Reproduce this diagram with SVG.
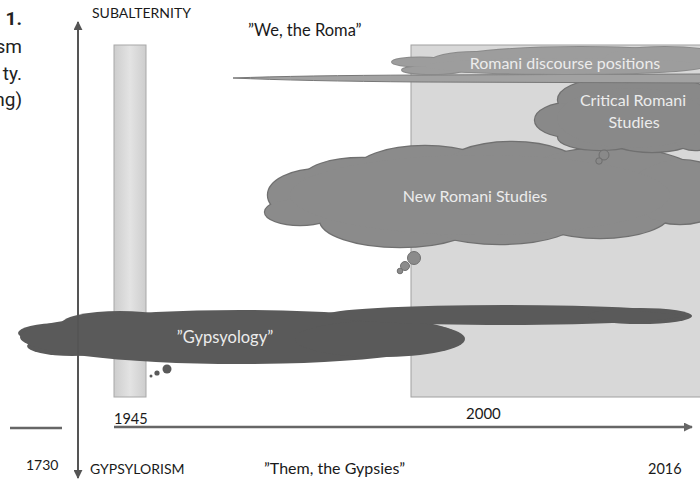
<svg xmlns="http://www.w3.org/2000/svg" xmlns:xlink="http://www.w3.org/1999/xlink" width="700" height="483" viewBox="0 0 700 483">
<style>
.lbl{font-family:Lato,"Open Sans","Liberation Sans",sans-serif;fill:#1a1a1a}
.ctxt{font-family:Lato,"Open Sans","Liberation Sans",sans-serif;fill:#ececec;text-anchor:middle}
.frag{font-family:Roboto,"Liberation Sans",sans-serif;font-size:19px;fill:#222;text-anchor:end}
.edge{fill:#707070;stroke:#707070;stroke-width:2.4}
.axis{stroke:#555;stroke-width:2;fill:none}
</style>
<defs>
<marker id="ah" viewBox="0 0 10 10" refX="9" refY="5" markerWidth="4.5" markerHeight="4.5" orient="auto-start-reverse" markerUnits="strokeWidth">
<path d="M0,0 L10,5 L0,10 Z" fill="#555"/>
</marker>
<marker id="ah2" viewBox="0 0 10 10" refX="9" refY="5" markerWidth="3.6" markerHeight="3.6" orient="auto" markerUnits="strokeWidth">
<path d="M0,0 L10,5 L0,10 Z" fill="#666"/>
</marker>
<linearGradient id="gnar" x1="0" x2="1" y1="0" y2="0">
<stop offset="0" stop-color="#cdcdcd"/><stop offset="0.5" stop-color="#e3e3e3"/><stop offset="1" stop-color="#cdcdcd"/>
</linearGradient>
<g id="shape-nrs">
<ellipse cx="320" cy="195" rx="52" ry="26"/>
<ellipse cx="300" cy="212" rx="35" ry="13"/>
<ellipse cx="362" cy="178" rx="58" ry="20"/>
<ellipse cx="425" cy="172" rx="70" ry="26"/>
<ellipse cx="512" cy="170" rx="70" ry="28"/>
<ellipse cx="610" cy="178" rx="90" ry="30"/>
<ellipse cx="400" cy="220" rx="80" ry="27"/>
<ellipse cx="500" cy="218" rx="80" ry="26"/>
<ellipse cx="600" cy="213" rx="70" ry="25"/>
<ellipse cx="680" cy="192" rx="50" ry="32"/>
<ellipse cx="480" cy="195" rx="190" ry="40"/>
</g>
<g id="shape-crs">
<ellipse cx="603" cy="100" rx="45" ry="20"/>
<ellipse cx="662" cy="98" rx="50" ry="20"/>
<ellipse cx="570" cy="120" rx="35" ry="17"/>
<ellipse cx="600" cy="137" rx="42" ry="13"/>
<ellipse cx="652" cy="137" rx="45" ry="15"/>
<ellipse cx="695" cy="124" rx="30" ry="26"/>
<ellipse cx="632" cy="118" rx="75" ry="30"/>
</g>
<g id="shape-rdp">
<ellipse cx="420" cy="62" rx="28" ry="4.5"/>
<ellipse cx="432" cy="70" rx="30" ry="4"/>
<ellipse cx="475" cy="62" rx="45" ry="10"/>
<ellipse cx="580" cy="60" rx="130" ry="13"/>
<ellipse cx="665" cy="58" rx="60" ry="11"/>
<ellipse cx="565" cy="66" rx="140" ry="8"/>
</g>
</defs>

<g id="left-fragments">
<text class="frag" x="22" y="25" font-weight="bold">1.</text>
<text class="frag" x="22" y="53">sm</text>
<text class="frag" x="22" y="80">ty.</text>
<text class="frag" x="22" y="106">ng)</text>
</g>

<g id="periods">
<rect id="period-1945" x="114" y="45" width="32" height="352" fill="url(#gnar)" stroke="#a8a8a8" stroke-width="1"/>
<rect id="period-2000" x="411" y="45" width="295" height="352" fill="#d8d8d8" stroke="#a0a0a0" stroke-width="1"/>
</g>

<g id="new-romani-studies">
<use xlink:href="#shape-nrs" class="edge"/>
<use xlink:href="#shape-nrs" fill="#8b8b8b"/>
<circle cx="414" cy="258" r="6.5" fill="#8b8b8b" stroke="#707070" stroke-width="1"/>
<circle cx="405" cy="266" r="4.5" fill="#8b8b8b" stroke="#707070" stroke-width="1"/>
<circle cx="400" cy="271" r="2.8" fill="#8b8b8b" stroke="#707070" stroke-width="1"/>
<text class="ctxt" x="475" y="202" font-size="16">New Romani Studies</text>
</g>

<g id="critical-romani-studies">
<use xlink:href="#shape-crs" class="edge"/>
<use xlink:href="#shape-crs" fill="#898989"/>
<circle cx="604" cy="155" r="5" fill="#898989" stroke="#6e6e6e" stroke-width="1"/>
<circle cx="599" cy="161" r="3.2" fill="#898989" stroke="#6e6e6e" stroke-width="1"/>
<text class="ctxt" x="633" y="106" font-size="16">Critical Romani</text>
<text class="ctxt" x="634" y="128" font-size="16">Studies</text>
</g>

<g id="romani-discourse-positions">
<path d="M233,78 Q300,75.5 420,75 L706,74 L706,83 L420,82 Q300,81 233,78 Z" fill="#a2a2a2" stroke="#777" stroke-width="1"/>
<use xlink:href="#shape-rdp" fill="#8a8a8a" stroke="#8a8a8a" stroke-width="2"/>
<use xlink:href="#shape-rdp" fill="#9d9d9d"/>
<text class="ctxt" x="565" y="69" font-size="16">Romani discourse positions</text>
</g>

<g id="gypsyology">
<g fill="#5a5a5a">
<ellipse cx="60" cy="333" rx="42" ry="10"/>
<ellipse cx="72" cy="346" rx="45" ry="10"/>
<ellipse cx="120" cy="325" rx="60" ry="14"/>
<ellipse cx="240" cy="337" rx="220" ry="27"/>
<ellipse cx="380" cy="339" rx="85" ry="18"/>
<ellipse cx="505" cy="315" rx="180" ry="10"/>
<ellipse cx="640" cy="316" rx="52" ry="8"/>
<path d="M640,311 L692,316 L640,322 Z"/>
<circle cx="167" cy="369" r="4.5"/>
<circle cx="157" cy="373" r="2.6"/>
<circle cx="151" cy="376" r="1.5"/>
</g>
<text class="ctxt" x="225" y="343" font-size="16.5">”Gypsyology”</text>
</g>

<g id="axes">
<line class="axis" x1="78" y1="478" x2="78" y2="22" marker-start="url(#ah)" marker-end="url(#ah)"/>
<line x1="114" y1="427" x2="692" y2="427" stroke="#666" stroke-width="2.5" marker-end="url(#ah2)"/>
<line x1="10" y1="428" x2="62" y2="428" stroke="#666" stroke-width="2.5"/>
</g>

<g id="labels">
<text class="lbl" x="92" y="18" font-size="14">SUBALTERNITY</text>
<text class="lbl" x="248" y="36" font-size="16.5">”We, the Roma”</text>
<text class="lbl" x="114" y="424" font-size="14.5">1945</text>
<text class="lbl" x="466" y="419" font-size="15">2000</text>
<text class="lbl" x="26" y="470" font-size="14">1730</text>
<text class="lbl" x="90" y="474" font-size="14">GYPSYLORISM</text>
<text class="lbl" x="264" y="474" font-size="16">”Them, the Gypsies”</text>
<text class="lbl" x="648" y="474" font-size="14.5">2016</text>
</g>
</svg>
